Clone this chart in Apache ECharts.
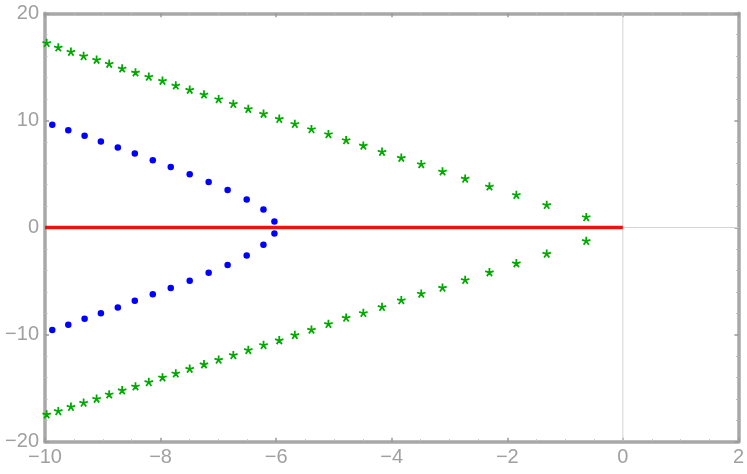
<!DOCTYPE html>
<html>
<head>
<meta charset="utf-8">
<script src="https://cdn.jsdelivr.net/npm/echarts@6/dist/echarts.min.js"></script>
<style>html,body{margin:0;padding:0;background:#fff}#c{width:747px;height:474px}</style>
</head>
<body>
<div id="c"></div>
<script>
// Blue dots (upper and lower branches)
var blueX = [-9.874, -9.597, -9.315, -9.033, -8.74, -8.446, -8.135, -7.824, -7.496, -7.168, -6.84, -6.51, -6.22, -6.03];
var blueUpperY = [9.60, 9.09, 8.57, 8.04, 7.48, 6.92, 6.29, 5.64, 4.98, 4.24, 3.49, 2.62, 1.68, 0.56];
var blueLowerY = [-9.56, -9.07, -8.53, -8.01, -7.48, -6.85, -6.23, -5.64, -4.98, -4.23, -3.49, -2.62, -1.62, -0.56];
// Green stars
var greenX = [-9.971, -9.770, -9.551, -9.332, -9.107, -8.889, -8.665, -8.434, -8.204, -7.967, -7.737, -7.496, -7.249, -6.995, -6.741, -6.482, -6.218, -5.946, -5.677, -5.389, -5.095, -4.789, -4.491, -4.168, -3.834, -3.489, -3.121, -2.729, -2.309, -1.843, -1.318, -0.634];
var greenUpperY = [17.36, 16.94, 16.54, 16.14, 15.79, 15.42, 14.98, 14.61, 14.21, 13.83, 13.39, 12.99, 12.55, 12.12, 11.68, 11.21, 10.75, 10.28, 9.81, 9.32, 8.85, 8.29, 7.78, 7.20, 6.64, 6.05, 5.36, 4.70, 3.96, 3.18, 2.24, 1.10];
var greenLowerY = [-17.32, -17.01, -16.61, -16.23, -15.86, -15.45, -15.07, -14.70, -14.30, -13.86, -13.49, -13.06, -12.64, -12.21, -11.78, -11.31, -10.84, -10.40, -9.91, -9.41, -8.87, -8.29, -7.85, -7.29, -6.66, -6.04, -5.49, -4.77, -4.05, -3.21, -2.31, -1.12];
// Red segment on the real axis
var redX = [-10, 0];
var redY = [0, 0];
// Axis lines through origin
var zeroVX = [0, 0], zeroVY = [-20, 20];
var zeroHX = [-10, 2], zeroHY = [0, 0];
// Tick labels
var xTicks = [-10, -8, -6, -4, -2, 0, 2];
var yTicks = [-20, -10, 0, 10, 20];

function zip(a, b) { return a.map(function (v, i) { return [v, b[i]]; }); }
function fmt(v) { return v < 0 ? '\u2212' + Math.abs(v) : String(v); }

var starPath = 'path://M2,0L2,-10L-2,-10L-2,0Z' +
  'M0.618,1.902L10.129,-1.188L8.893,-4.992L-0.618,-1.902Z' +
  'M-1.618,1.176L4.26,9.266L7.496,6.914L1.618,-1.176Z' +
  'M-1.618,-1.176L-7.496,6.914L-4.26,9.266L1.618,1.176Z' +
  'M0.618,-1.902L-8.893,-4.992L-10.129,-1.188L-0.618,1.902Z';

var frame = '#a8a8a8';
var labelStyle = { color: '#a0a0a0', fontSize: 20, fontFamily: 'Liberation Sans, Arial, sans-serif' };

function xAxisCfg(pos, showLabel) {
  return {
    type: 'value', position: pos, min: -10, max: 2, interval: 2,
    axisLine: { show: true, onZero: false, lineStyle: { color: frame, width: 3.5 } },
    axisTick: { show: true, inside: true, length: 4, lineStyle: { color: '#999', width: 1.5 } },
    minorTick: { show: true, splitNumber: 4, length: 2.5, lineStyle: { color: '#bbb', width: 1 } },
    splitLine: { show: false },
    axisLabel: Object.assign({ show: showLabel, margin: 6, formatter: function (v) { return xTicks.indexOf(v) >= 0 ? fmt(v) : ''; } }, labelStyle)
  };
}
function yAxisCfg(pos, showLabel) {
  return {
    type: 'value', position: pos, min: -20, max: 20, interval: 10,
    axisLine: { show: true, onZero: false, lineStyle: { color: frame, width: 3.5 } },
    axisTick: { show: true, inside: true, length: 4, lineStyle: { color: '#999', width: 1.5 } },
    minorTick: { show: true, splitNumber: 5, length: 2.5, lineStyle: { color: '#bbb', width: 1 } },
    splitLine: { show: false },
    axisLabel: Object.assign({ show: showLabel, margin: 6, formatter: function (v) { return yTicks.indexOf(v) >= 0 ? fmt(v) : ''; } }, labelStyle)
  };
}

var chart = echarts.init(document.getElementById('c'), null, { renderer: 'canvas' });
chart.setOption({
  animation: false,
  backgroundColor: '#ffffff',
  grid: { left: 45, right: 7.5, top: 13.3, bottom: 32.3, containLabel: false },
  xAxis: [xAxisCfg('bottom', true), xAxisCfg('top', false)],
  yAxis: [yAxisCfg('left', true), yAxisCfg('right', false)],
  series: [
    { type: 'line', data: zip(zeroVX, zeroVY), symbol: 'none', lineStyle: { color: '#d4d4d4', width: 1 }, z: 1 },
    { type: 'line', data: zip(zeroHX, zeroHY), symbol: 'none', lineStyle: { color: '#d4d4d4', width: 1 }, z: 1 },
    { type: 'line', data: zip(redX, redY), symbol: 'none', lineStyle: { color: '#ee1111', width: 3.5 }, z: 2 },
    { type: 'scatter', data: zip(blueX, blueUpperY), symbol: 'circle', symbolSize: 6.5, itemStyle: { color: '#0000ff', opacity: 1 }, z: 3 },
    { type: 'scatter', data: zip(blueX, blueLowerY), symbol: 'circle', symbolSize: 6.5, itemStyle: { color: '#0000ff', opacity: 1 }, z: 3 },
    { type: 'scatter', data: zip(greenX, greenUpperY), symbol: starPath, symbolSize: 9, symbolKeepAspect: true, symbolOffset: [0, 1.5], itemStyle: { color: '#00a800', opacity: 1 }, z: 3 },
    { type: 'scatter', data: zip(greenX, greenLowerY), symbol: starPath, symbolSize: 9, symbolKeepAspect: true, symbolOffset: [0, 1.5], itemStyle: { color: '#00a800', opacity: 1 }, z: 3 }
  ]
});
</script>
</body>
</html>
